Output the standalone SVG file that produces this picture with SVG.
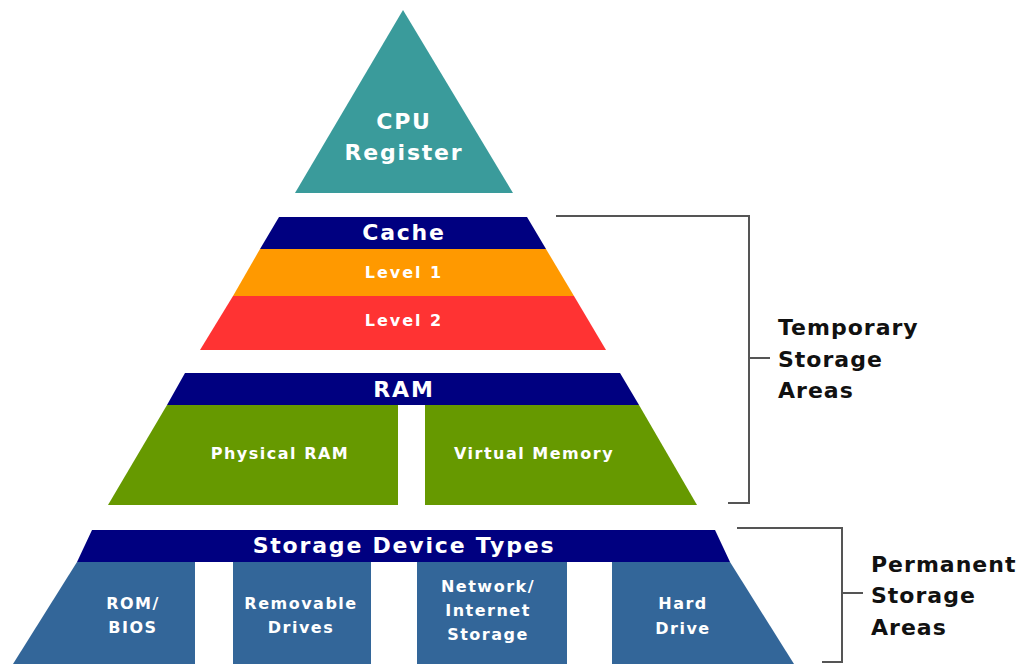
<svg xmlns="http://www.w3.org/2000/svg" width="1032" height="664" viewBox="0 0 1032 664">
  <style>
    .lbl { font-family: "DejaVu Sans", "Liberation Sans", sans-serif; font-weight: bold; fill: #ffffff; text-anchor: middle; }
    .title { font-size: 22px; letter-spacing: 1.8px; }
    .sub { font-size: 16px; letter-spacing: 1.5px; }
    .lvl { font-size: 16px; letter-spacing: 2px; }
    .side { font-family: "DejaVu Sans", "Liberation Sans", sans-serif; font-weight: bold; font-size: 22px; letter-spacing: 1px; fill: #111111; }
    .navy { fill: #000080; }
    .teal { fill: #3A9B9B; }
    .orange { fill: #FF9900; }
    .red { fill: #FF3333; }
    .green { fill: #669900; }
    .blue { fill: #336699; }
    .bracket { fill: none; stroke: #555555; stroke-width: 2; }
  </style>
  <rect width="1032" height="664" fill="#ffffff"/>

  <g id="cpu-register">
    <polygon class="teal" points="403,10 513,193 295,193"/>
    <text class="lbl title" x="404" y="129">CPU</text>
    <text class="lbl title" x="404" y="160">Register</text>
  </g>

  <g id="cache">
    <polygon class="navy" points="279,217 527,217 546,249 260,249"/>
    <text class="lbl title" x="404" y="240">Cache</text>
  </g>
  <g id="level1">
    <polygon class="orange" points="260,249 546,249 574,296 233,296"/>
    <text class="lbl lvl" x="404" y="278">Level 1</text>
  </g>
  <g id="level2">
    <polygon class="red" points="233,296 574,296 606,350 200,350"/>
    <text class="lbl lvl" x="404" y="326">Level 2</text>
  </g>

  <g id="ram">
    <polygon class="navy" points="185,373 620,373 639,405 167,405"/>
    <text class="lbl title" x="404" y="397">RAM</text>
  </g>
  <g id="physical-ram">
    <polygon class="green" points="167,405 398,405 398,505 108,505"/>
    <text class="lbl sub" x="280" y="459">Physical RAM</text>
  </g>
  <g id="virtual-memory">
    <polygon class="green" points="425,405 639,405 697,505 425,505"/>
    <text class="lbl sub" x="534" y="459">Virtual Memory</text>
  </g>

  <g id="storage-device-types">
    <polygon class="navy" points="92,530 715,530 730,562 77,562"/>
    <text class="lbl title" x="404" y="553">Storage Device Types</text>
  </g>
  <g id="rom-bios">
    <polygon class="blue" points="77,562 195,562 195,664 13,664"/>
    <text class="lbl sub" x="133" y="609">ROM/</text>
    <text class="lbl sub" x="133" y="633">BIOS</text>
  </g>
  <g id="removable-drives">
    <rect class="blue" x="233" y="562" width="138" height="102"/>
    <text class="lbl sub" x="301" y="609">Removable</text>
    <text class="lbl sub" x="301" y="633">Drives</text>
  </g>
  <g id="network-storage">
    <rect class="blue" x="417" y="562" width="150" height="102"/>
    <text class="lbl sub" x="488" y="592">Network/</text>
    <text class="lbl sub" x="488" y="616">Internet</text>
    <text class="lbl sub" x="488" y="640">Storage</text>
  </g>
  <g id="hard-drive">
    <polygon class="blue" points="612,562 730,562 794,664 612,664"/>
    <text class="lbl sub" x="683" y="609">Hard</text>
    <text class="lbl sub" x="683" y="634">Drive</text>
  </g>

  <g id="connectors">
    <polyline class="bracket" points="556,216 749,216 749,503 728,503"/>
    <line class="bracket" x1="749" y1="358" x2="770" y2="358"/>
    <polyline class="bracket" points="737,528 842,528 842,662 822,662"/>
    <line class="bracket" x1="842" y1="593" x2="863" y2="593"/>
  </g>

  <g id="temporary-label">
    <text class="side" x="778" y="335">Temporary</text>
    <text class="side" x="778" y="367">Storage</text>
    <text class="side" x="778" y="398">Areas</text>
  </g>
  <g id="permanent-label">
    <text class="side" x="871" y="572">Permanent</text>
    <text class="side" x="871" y="603">Storage</text>
    <text class="side" x="871" y="635">Areas</text>
  </g>
</svg>
